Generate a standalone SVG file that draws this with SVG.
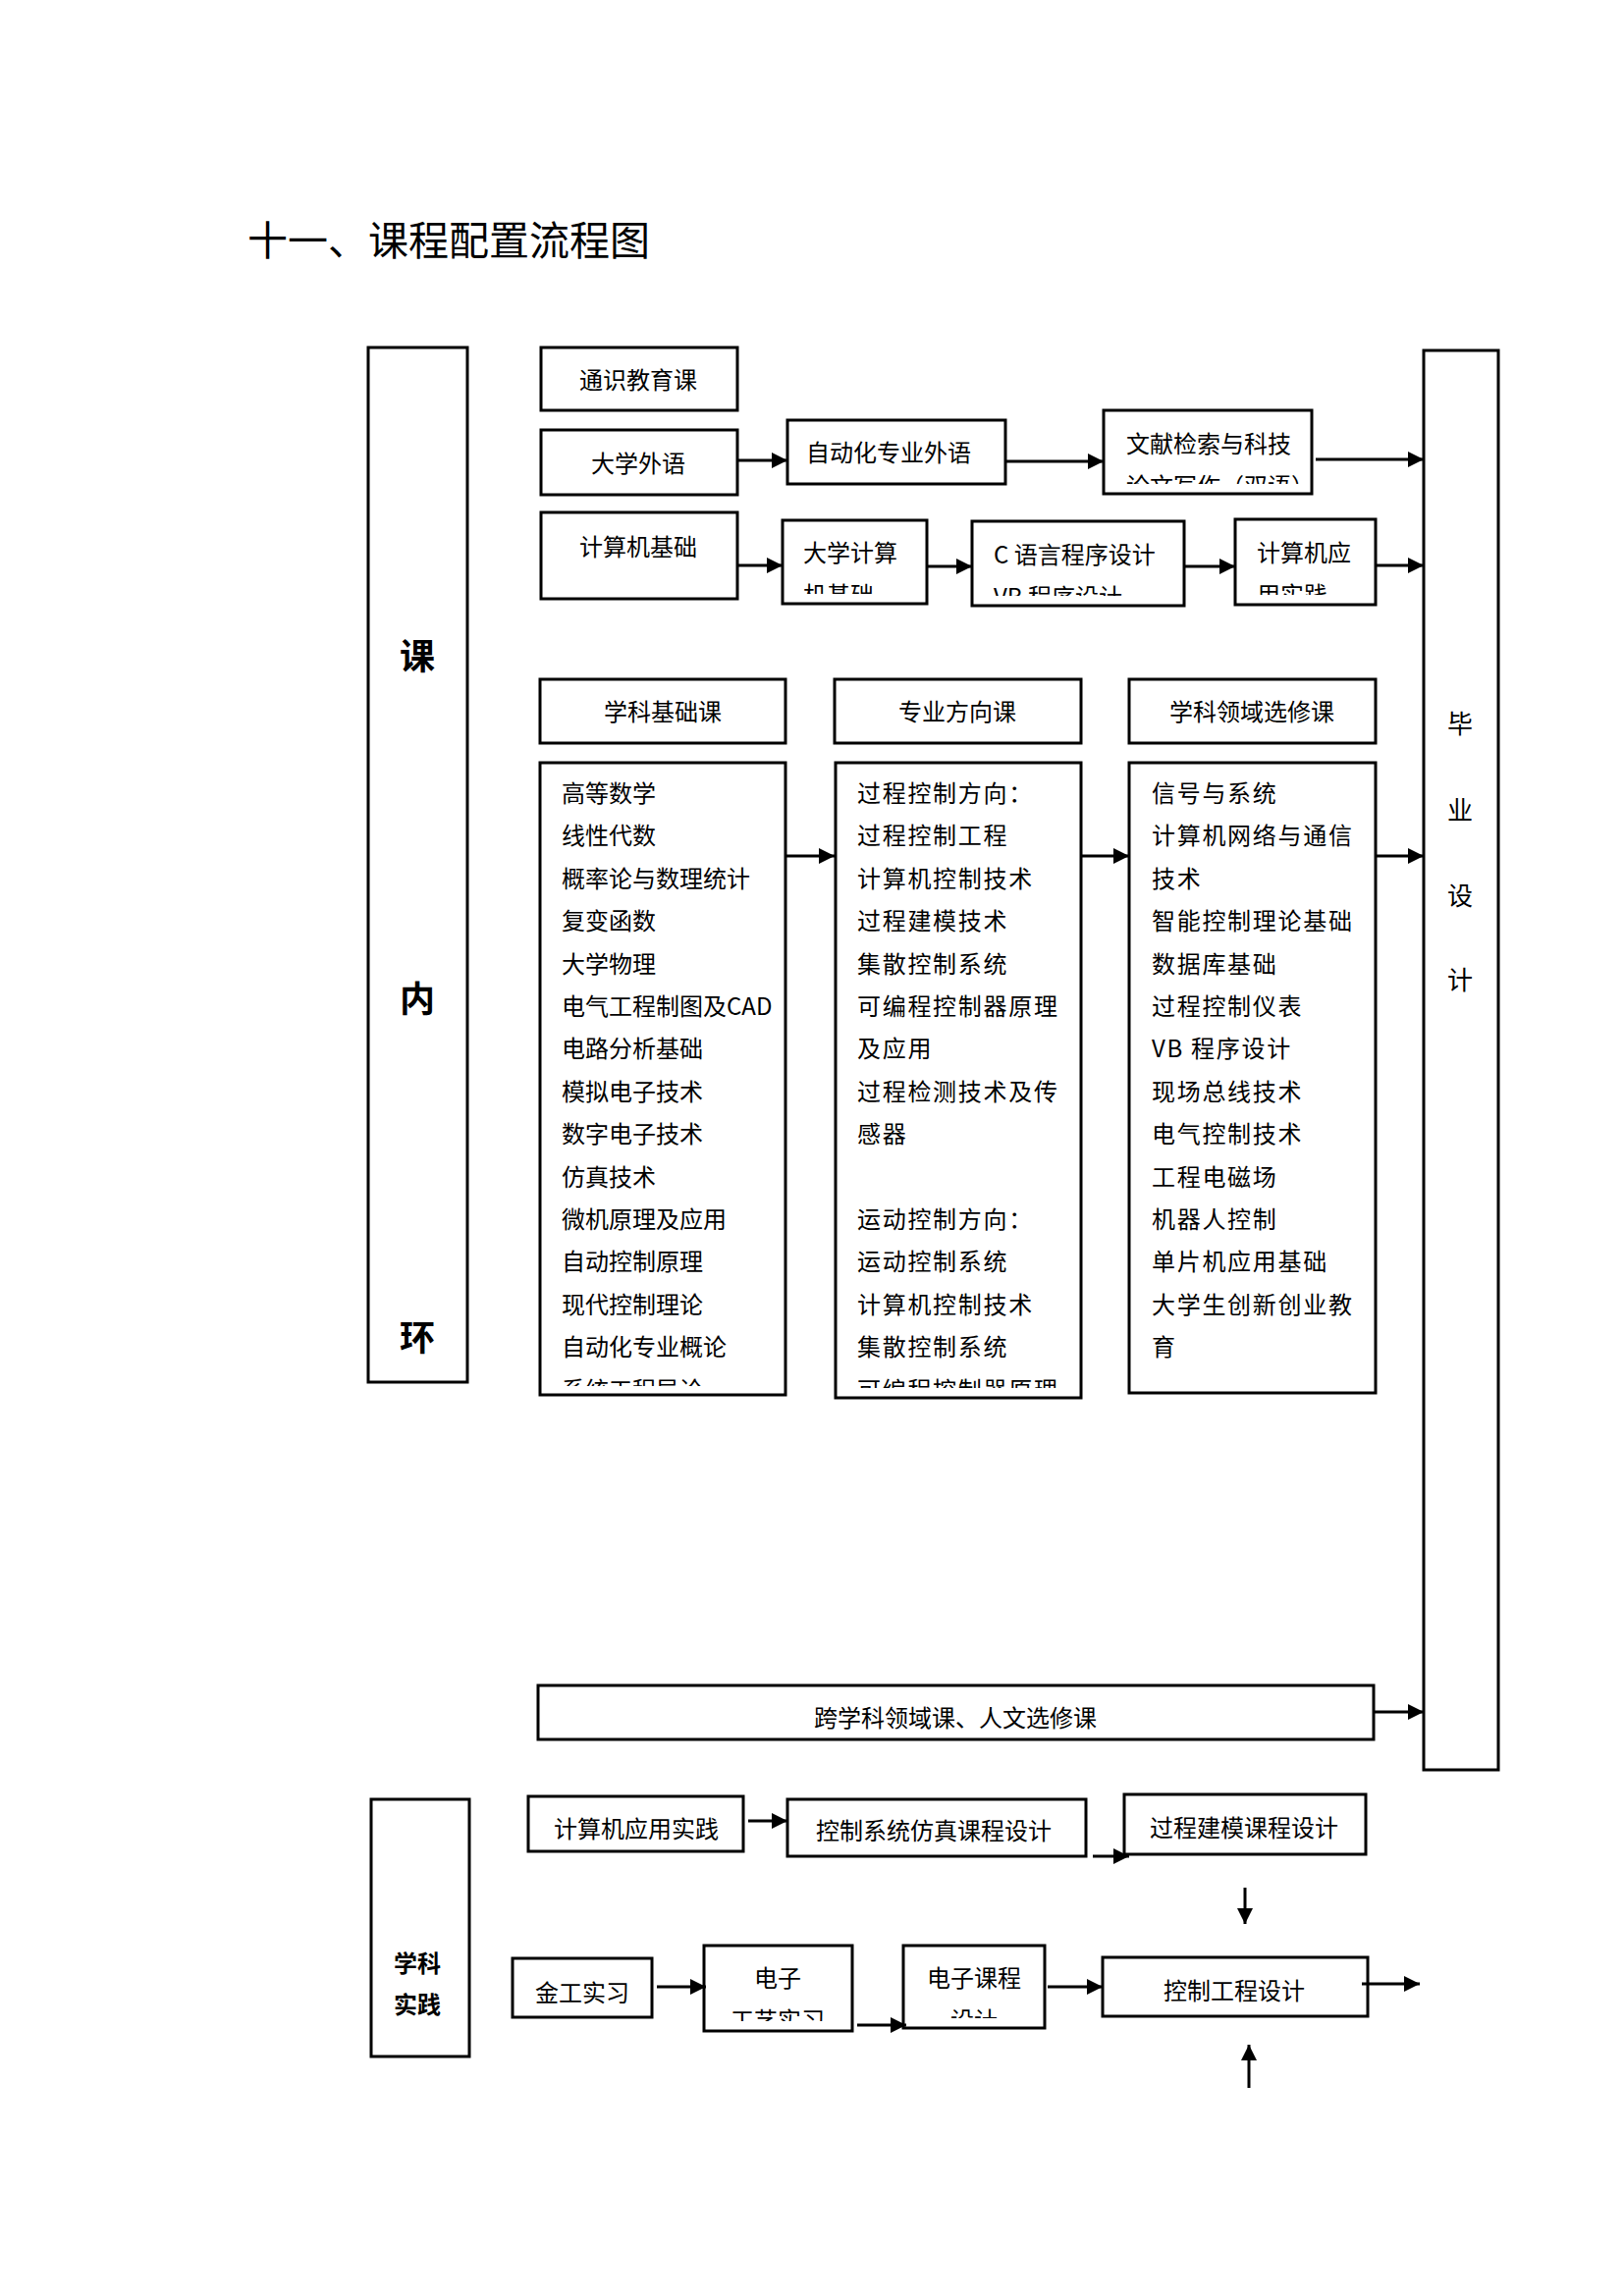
<svg xmlns="http://www.w3.org/2000/svg" width="1654" height="2339" viewBox="0 0 1654 2339">
<style>
.box{fill:#fff;stroke:#000;stroke-width:3}
.t{font-family:"Noto Sans CJK SC","Liberation Serif",sans-serif;font-size:24px;fill:#000}
.c{text-anchor:middle}
.ls{letter-spacing:1.7px}
.big{font-family:"Noto Sans CJK SC",sans-serif;font-size:36px;font-weight:bold;fill:#000;text-anchor:middle}
.side{font-family:"Noto Sans CJK SC",sans-serif;font-size:26px;fill:#000;text-anchor:middle}
.conn line{stroke:#000;stroke-width:3;marker-end:url(#ah)}
</style>
<defs>
<marker id="ah" markerUnits="userSpaceOnUse" markerWidth="16" markerHeight="16" refX="16" refY="8" orient="auto">
<path d="M0,0 L16,8 L0,16 z" fill="#000"/>
</marker>
<clipPath id="cp1"><rect x="797" y="530" width="147" height="75"/></clipPath>
<clipPath id="cp2"><rect x="1124" y="418" width="212" height="75"/></clipPath>
<clipPath id="cp3"><rect x="990" y="531" width="216" height="76"/></clipPath>
<clipPath id="cp4"><rect x="1258" y="529" width="143" height="77"/></clipPath>
<clipPath id="cp5"><rect x="550" y="777" width="250" height="635"/></clipPath>
<clipPath id="cp6"><rect x="851" y="777" width="250" height="637"/></clipPath>
<clipPath id="cp7"><rect x="717" y="1982" width="151" height="77"/></clipPath>
<clipPath id="cp8"><rect x="920" y="1982" width="144" height="74"/></clipPath>
</defs>
<rect width="1654" height="2339" fill="#fff"/>
<text x="252" y="260" font-family="Noto Sans CJK SC, sans-serif" font-size="41" fill="#000">十一、课程配置流程图</text>

<g id="kenei">
<rect class="box" x="375" y="354" width="101" height="1054"/>
<text class="big" x="425" y="682">课</text>
<text class="big" x="425" y="1031">内</text>
<text class="big" x="425" y="1376">环</text>
</g>
<g id="biye">
<rect class="box" x="1450" y="357" width="76" height="1446"/>
<text class="side" x="1487" y="747">毕</text>
<text class="side" x="1487" y="835">业</text>
<text class="side" x="1487" y="922">设</text>
<text class="side" x="1487" y="1008">计</text>
</g>
<g id="tongshi">
<rect class="box" x="551" y="354" width="200" height="64"/>
<text class="t c" x="650" y="396">通识教育课</text>
</g>
<g id="waiyu">
<rect class="box" x="551" y="438" width="200" height="66"/>
<text class="t c" x="650" y="481">大学外语</text>
</g>
<g id="zdhwy">
<rect class="box" x="802" y="428" width="222" height="65"/>
<text class="t" x="821" y="470">自动化专业外语</text>
</g>
<g id="wenxian">
<rect class="box" x="1124" y="418" width="212" height="85"/>
<g clip-path="url(#cp2)"><text class="t" x="1147" y="461">文献检索与科技<tspan x="1147" dy="43">论文写作（双语）</tspan></text></g>
</g>
<g id="jsjjc">
<rect class="box" x="551" y="522" width="200" height="88"/>
<text class="t c" x="650" y="566">计算机基础</text>
</g>
<g id="dxjs">
<rect class="box" x="797" y="530" width="147" height="85"/>
<g clip-path="url(#cp1)"><text class="t" x="818" y="572">大学计算<tspan x="818" dy="43">机基础</tspan></text></g>
</g>
<g id="cyuyan">
<rect class="box" x="990" y="531" width="216" height="86"/>
<g clip-path="url(#cp3)"><text class="t" x="1012" y="574">C 语言程序设计<tspan x="1012" dy="43">VB 程序设计</tspan></text></g>
</g>
<g id="jsjyy">
<rect class="box" x="1258" y="529" width="143" height="87"/>
<g clip-path="url(#cp4)"><text class="t" x="1280" y="572">计算机应<tspan x="1280" dy="43">用实践</tspan></text></g>
</g>

<g id="xkjck">
<rect class="box" x="550" y="692" width="250" height="65"/>
<text class="t c" x="675" y="734">学科基础课</text>
</g>
<g id="zyfxk">
<rect class="box" x="850" y="692" width="251" height="65"/>
<text class="t c" x="975" y="734">专业方向课</text>
</g>
<g id="xklyxxk">
<rect class="box" x="1150" y="692" width="251" height="65"/>
<text class="t c" x="1275" y="734">学科领域选修课</text>
</g>

<g id="list1">
<rect class="box" x="550" y="777" width="250" height="644"/>
<g clip-path="url(#cp5)"><text class="t" x="572" y="817">高等数学<tspan x="572" dy="43.4">线性代数</tspan><tspan x="572" dy="43.4">概率论与数理统计</tspan><tspan x="572" dy="43.4">复变函数</tspan><tspan x="572" dy="43.4">大学物理</tspan><tspan x="572" dy="43.4">电气工程制图及CAD</tspan><tspan x="572" dy="43.4">电路分析基础</tspan><tspan x="572" dy="43.4">模拟电子技术</tspan><tspan x="572" dy="43.4">数字电子技术</tspan><tspan x="572" dy="43.4">仿真技术</tspan><tspan x="572" dy="43.4">微机原理及应用</tspan><tspan x="572" dy="43.4">自动控制原理</tspan><tspan x="572" dy="43.4">现代控制理论</tspan><tspan x="572" dy="43.4">自动化专业概论</tspan><tspan x="572" dy="43.4">系统工程导论</tspan></text></g>
</g>
<g id="list2">
<rect class="box" x="851" y="777" width="250" height="647"/>
<g clip-path="url(#cp6)"><text class="t ls" x="873" y="817">过程控制方向：<tspan x="873" dy="43.4">过程控制工程</tspan><tspan x="873" dy="43.4">计算机控制技术</tspan><tspan x="873" dy="43.4">过程建模技术</tspan><tspan x="873" dy="43.4">集散控制系统</tspan><tspan x="873" dy="43.4">可编程控制器原理</tspan><tspan x="873" dy="43.4">及应用</tspan><tspan x="873" dy="43.4">过程检测技术及传</tspan><tspan x="873" dy="43.4">感器</tspan><tspan x="873" dy="86.8">运动控制方向：</tspan><tspan x="873" dy="43.4">运动控制系统</tspan><tspan x="873" dy="43.4">计算机控制技术</tspan><tspan x="873" dy="43.4">集散控制系统</tspan><tspan x="873" dy="43.4">可编程控制器原理</tspan></text></g>
</g>
<g id="list3">
<rect class="box" x="1150" y="777" width="251" height="642"/>
<text class="t ls" x="1173" y="817">信号与系统<tspan x="1173" dy="43.4">计算机网络与通信</tspan><tspan x="1173" dy="43.4">技术</tspan><tspan x="1173" dy="43.4">智能控制理论基础</tspan><tspan x="1173" dy="43.4">数据库基础</tspan><tspan x="1173" dy="43.4">过程控制仪表</tspan><tspan x="1173" dy="43.4">VB 程序设计</tspan><tspan x="1173" dy="43.4">现场总线技术</tspan><tspan x="1173" dy="43.4">电气控制技术</tspan><tspan x="1173" dy="43.4">工程电磁场</tspan><tspan x="1173" dy="43.4">机器人控制</tspan><tspan x="1173" dy="43.4">单片机应用基础</tspan><tspan x="1173" dy="43.4">大学生创新创业教</tspan><tspan x="1173" dy="43.4">育</tspan></text>
</g>

<g id="kuaxueke">
<rect class="box" x="548" y="1717" width="851" height="55"/>
<text class="t c" x="973" y="1759">跨学科领域课、人文选修课</text>
</g>

<g id="xksj">
<rect class="box" x="378" y="1833" width="100" height="262"/>
<text x="425" y="2009" font-family="Noto Sans CJK SC, sans-serif" font-size="24" font-weight="bold" text-anchor="middle">学科</text>
<text x="425" y="2051" font-family="Noto Sans CJK SC, sans-serif" font-size="24" font-weight="bold" text-anchor="middle">实践</text>
</g>
<g id="jsjyysj">
<rect class="box" x="538" y="1830" width="219" height="56"/>
<text class="t c" x="648" y="1872">计算机应用实践</text>
</g>
<g id="kzxtfz">
<rect class="box" x="802" y="1833" width="304" height="58"/>
<text class="t" x="831" y="1874">控制系统仿真课程设计</text>
</g>
<g id="gcjm">
<rect class="box" x="1145" y="1828" width="246" height="61"/>
<text class="t c" x="1267" y="1871">过程建模课程设计</text>
</g>
<g id="jgsx">
<rect class="box" x="522" y="1995" width="142" height="60"/>
<text class="t c" x="593" y="2039">金工实习</text>
</g>
<g id="dzgy">
<rect class="box" x="717" y="1982" width="151" height="87"/>
<g clip-path="url(#cp7)"><text class="t c" x="792" y="2024">电子<tspan x="792" dy="43">工艺实习</tspan></text></g>
</g>
<g id="dzkc">
<rect class="box" x="920" y="1982" width="144" height="84"/>
<g clip-path="url(#cp8)"><text class="t c" x="992" y="2024">电子课程<tspan x="992" dy="43">设计</tspan></text></g>
</g>
<g id="kzgc">
<rect class="box" x="1123" y="1994" width="270" height="60"/>
<text class="t c" x="1257" y="2037">控制工程设计</text>
</g>

<g id="connectors" class="conn">
<line x1="751" y1="469" x2="802" y2="469"/>
<line x1="1024" y1="470" x2="1124" y2="470"/>
<line x1="1340" y1="468" x2="1450" y2="468"/>
<line x1="751" y1="576" x2="797" y2="576"/>
<line x1="944" y1="577" x2="990" y2="577"/>
<line x1="1206" y1="577" x2="1258" y2="577"/>
<line x1="1401" y1="576" x2="1450" y2="576"/>
<line x1="800" y1="872" x2="850" y2="872"/>
<line x1="1101" y1="872" x2="1150" y2="872"/>
<line x1="1401" y1="872" x2="1450" y2="872"/>
<line x1="1399" y1="1744" x2="1450" y2="1744"/>
<line x1="762" y1="1855" x2="802" y2="1855"/>
<line x1="1113" y1="1891" x2="1150" y2="1891"/>
<line x1="1268" y1="1923" x2="1268" y2="1960"/>
<line x1="669" y1="2024" x2="719" y2="2024"/>
<line x1="873" y1="2063" x2="923" y2="2063"/>
<line x1="1067" y1="2024" x2="1123" y2="2024"/>
<line x1="1387" y1="2021" x2="1446" y2="2021"/>
<line x1="1272" y1="2127" x2="1272" y2="2083"/>
</g>
</svg>
